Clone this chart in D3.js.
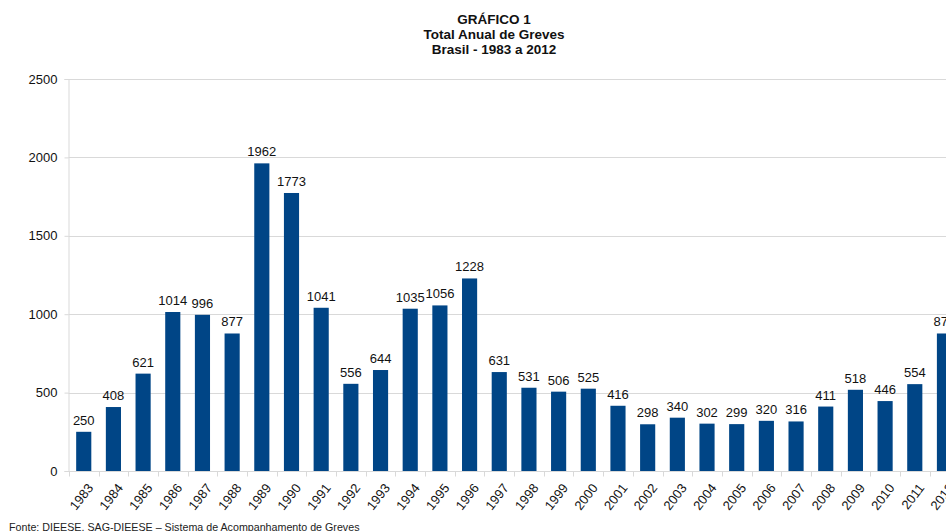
<!DOCTYPE html>
<html><head><meta charset="utf-8">
<script src="https://cdn.jsdelivr.net/npm/d3@7"></script>
<style>
html,body{margin:0;padding:0;background:#fff;overflow:hidden}
text{font-family:"Liberation Sans",Arial,sans-serif}
</style></head>
<body>
<svg id="c" width="946" height="531"></svg>
<script>
const years = ["1983","1984","1985","1986","1987","1988","1989","1990","1991","1992","1993","1994","1995","1996","1997","1998","1999","2000","2001","2002","2003","2004","2005","2006","2007","2008","2009","2010","2011","2012"];
const greves = [250,408,621,1014,996,877,1962,1773,1041,556,644,1035,1056,1228,631,531,506,525,416,298,340,302,299,320,316,411,518,446,554,877];
const yTicks = [0,500,1000,1500,2000,2500];
const titleLines = ["GRÁFICO 1","Total Anual de Greves","Brasil - 1983 a 2012"];
const fonte = "Fonte: DIEESE. SAG-DIEESE – Sistema de Acompanhamento de Greves";

const svg = d3.select("#c");
const x = d3.scaleBand().domain(years).range([68.9, 959.3]).paddingInner(0.49).paddingOuter(0.245);
const y = d3.scaleLinear().domain([0,2500]).range([471,79]);

// gridlines
svg.append("g").selectAll("line").data(yTicks.filter(d=>d>0)).join("line")
  .attr("x1",68.5).attr("x2",946).attr("y1",d=>Math.round(y(d))+0.5).attr("y2",d=>Math.round(y(d))+0.5)
  .attr("stroke","#d9d9d9").attr("stroke-width",1);

// y axis
const yAx = svg.append("g").attr("transform","translate(68.5,0)")
  .call(d3.axisLeft(y).tickValues(yTicks).tickFormat(d3.format("d")).tickSize(4).tickPadding(7));
yAx.select(".domain").attr("stroke","#d9d9d9");
yAx.selectAll(".tick line").attr("stroke","#d9d9d9");
yAx.selectAll(".tick text").attr("font-size","13px").attr("fill","#111").attr("font-family","Liberation Sans, Arial, sans-serif");

// bars
svg.append("g").selectAll("rect").data(greves).join("rect")
  .attr("x",(d,i)=>x(years[i])).attr("width",x.bandwidth())
  .attr("y",d=>y(d)).attr("height",d=>y(0)-y(d))
  .attr("fill","#004586");

// value labels
svg.append("g").selectAll("text").data(greves).join("text")
  .attr("x",(d,i)=>x(years[i])+x.bandwidth()/2).attr("y",d=>y(d)-7)
  .attr("text-anchor","middle").attr("font-size","13px").attr("fill","#111")
  .text(d=>d);

// x axis
const step = x.step();
const xAx = svg.append("g").attr("transform","translate(0,"+(Math.round(y(0))+0.5)+")");
xAx.append("line").attr("x1",68.5).attr("x2",946).attr("stroke","#d9d9d9");
xAx.selectAll("line.tk").data(d3.range(0,years.length+1)).join("line").attr("class","tk")
  .attr("x1",i=>Math.round(68.9+i*step)+0.5).attr("x2",i=>Math.round(68.9+i*step)+0.5)
  .attr("y1",0).attr("y2",5).attr("stroke","#d9d9d9");
xAx.selectAll("text").data(years).join("text")
  .attr("transform",d=>"translate("+(x(d)+x.bandwidth()/2+3)+",11) rotate(-52)")
  .attr("text-anchor","end").attr("dy","0.7em").attr("font-size","13px").attr("fill","#111")
  .text(d=>d);

// title
svg.append("g").selectAll("text").data(titleLines).join("text")
  .attr("x",494).attr("y",(d,i)=>24+i*15).attr("text-anchor","middle")
  .attr("font-size","13.5px").attr("font-weight","bold").attr("fill","#111").text(d=>d);

// footer
svg.append("text").attr("x",9).attr("y",531).attr("font-size","10.7px").attr("fill","#222").text(fonte);
</script>
</body></html>
